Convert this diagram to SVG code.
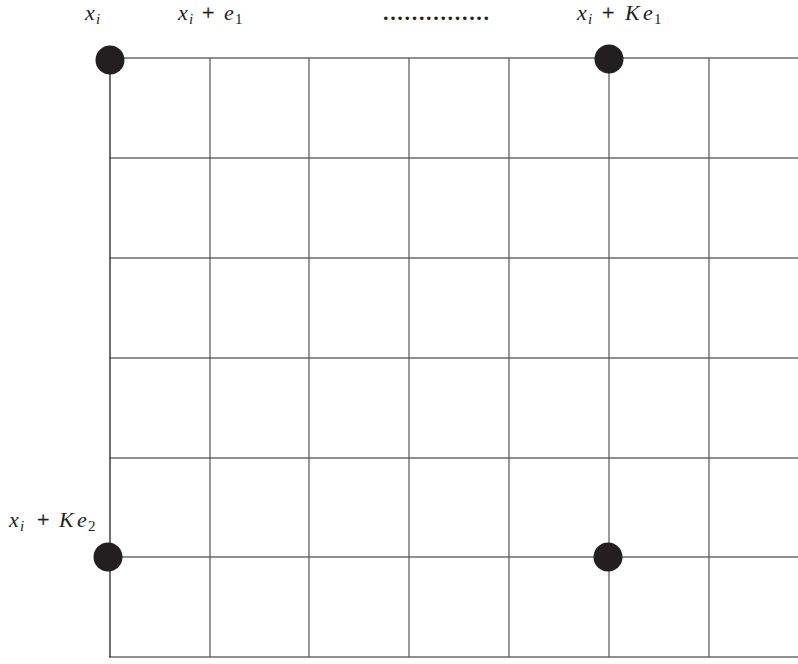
<svg xmlns="http://www.w3.org/2000/svg" width="798" height="664" viewBox="0 0 798 664">
<style>
.h{stroke:#231f20;stroke-width:1.2}
.v{stroke:#555;stroke-width:1.2}
.vd{stroke:#231f20;stroke-width:1.3}
.dot{fill:#231f20}
text{font-family:"Liberation Serif","DejaVu Serif",serif;font-size:22px;fill:#231f20}
.it{font-style:italic}
.sub{font-size:15px}
.pl{stroke:#231f20;stroke-width:0.4}
.dots{font-weight:bold}
</style>
<rect width="798" height="664" fill="#fff"/>
<g id="grid">
<line class="h" x1="110" y1="58" x2="798" y2="58"/>
<line class="h" x1="110" y1="158" x2="798" y2="158"/>
<line class="h" x1="110" y1="258" x2="798" y2="258"/>
<line class="h" x1="110" y1="358" x2="798" y2="358"/>
<line class="h" x1="110" y1="458" x2="798" y2="458"/>
<line class="h" x1="110" y1="557" x2="798" y2="557"/>
<line class="h" x1="109" y1="657" x2="798" y2="657"/>
<line class="vd" x1="110" y1="58" x2="110" y2="657"/>
<line class="v" x1="210" y1="58" x2="210" y2="657"/>
<line class="v" x1="309" y1="58" x2="309" y2="657"/>
<line class="v" x1="409" y1="58" x2="409" y2="657"/>
<line class="v" x1="509" y1="58" x2="509" y2="657"/>
<line class="v" x1="609" y1="58" x2="609" y2="657"/>
<line class="v" x1="709" y1="58" x2="709" y2="657"/>
</g>
<g id="n1"><circle class="dot" cx="110" cy="60" r="14.5"/></g>
<g id="n2"><circle class="dot" cx="609" cy="59" r="14.5"/></g>
<g id="n3"><circle class="dot" cx="108" cy="557" r="14.5"/></g>
<g id="n4"><circle class="dot" cx="608" cy="557" r="14.5"/></g>
<g id="labels">
<text y="20"><tspan class="it" x="85">x</tspan><tspan class="it sub" x="96" y="24">i</tspan></text>
<text y="20"><tspan class="it" x="178">x</tspan><tspan class="it sub" x="189" y="24">i</tspan><tspan class="pl" x="202" y="20">+</tspan><tspan class="it" x="224">e</tspan><tspan class="sub" x="235" y="24">1</tspan></text>
<text class="dots" x="383" y="20" textLength="106" lengthAdjust="spacing">...............</text>
<text y="20"><tspan class="it" x="577">x</tspan><tspan class="it sub" x="588" y="24">i</tspan><tspan class="pl" x="602" y="20">+</tspan><tspan class="it" x="625">K</tspan><tspan class="it" x="643">e</tspan><tspan class="sub" x="654" y="24">1</tspan></text>
<text y="527"><tspan class="it" x="9">x</tspan><tspan class="it sub" x="20" y="531">i</tspan><tspan class="pl" x="37" y="527">+</tspan><tspan class="it" x="59">K</tspan><tspan class="it" x="77">e</tspan><tspan class="sub" x="88" y="531">2</tspan></text>
</g>
</svg>
